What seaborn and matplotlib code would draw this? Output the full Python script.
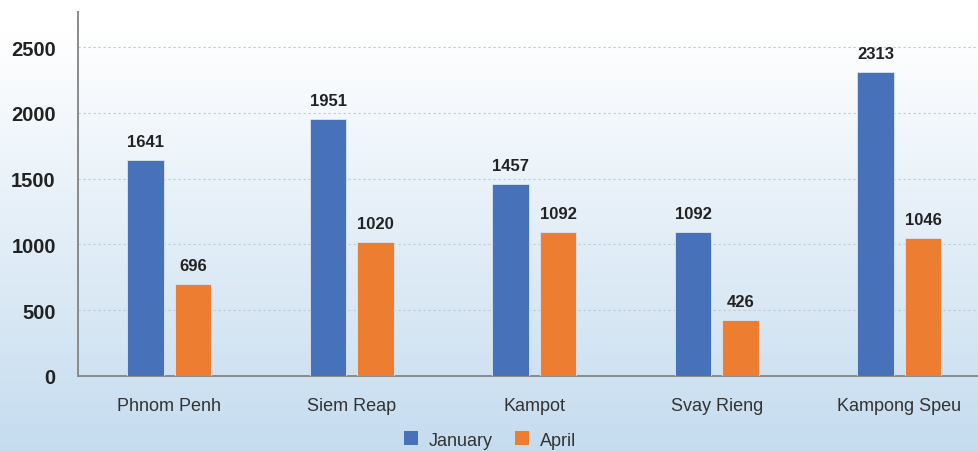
import numpy as np
import pandas as pd
import matplotlib
matplotlib.use("Agg")
import matplotlib.pyplot as plt
from matplotlib.patches import Patch
from matplotlib.ticker import MultipleLocator
import seaborn as sns

provinces = ["Phnom Penh", "Siem Reap", "Kampot", "Svay Rieng", "Kampong Speu"]
january = [1641, 1951, 1457, 1092, 2313]
april = [696, 1020, 1092, 426, 1046]
months = ["January", "April"]
colors = ["#4771B8", "#ED7D31"]

df = pd.DataFrame({
    "Province": provinces * 2,
    "Month": [months[0]] * len(provinces) + [months[1]] * len(provinces),
    "Count": january + april,
})

sns.set_theme(style="white")
plt.rcParams["font.family"] = ["Liberation Sans", "DejaVu Sans"]

fig = plt.figure(figsize=(9.79, 4.52), dpi=100)

# soft white-to-blue backdrop behind the whole figure
bg = fig.add_axes([0, 0, 1, 1], zorder=-10)
h = 452
t = np.clip((np.arange(h) - 30) / (h - 30), 0, 1)[:, None]
top = np.array([1.0, 1.0, 1.0])
bottom = np.array([197, 220, 239]) / 255
grad = top[None, None, :] * (1 - t[..., None]) + bottom[None, None, :] * t[..., None]
grad = np.repeat(grad, 4, axis=1)
bg.imshow(grad, aspect="auto", extent=[0, 1, 0, 1])
bg.axis("off")

ax = fig.add_axes([78 / 979, 75 / 452, 912.5 / 979, 364 / 452])
ax.set_facecolor("none")

sns.barplot(data=df, x="Province", y="Count", hue="Month", palette=colors,
            width=0.52, gap=0.23, ax=ax, legend=False, saturation=1,
            edgecolor="#dbe6f3", linewidth=0.6, zorder=3)

for cont in ax.containers:
    ax.bar_label(cont, padding=8, fontsize=12, fontweight="bold", color="#222222")

ax.set_ylim(0, 2766)
ax.set_xlim(-0.5, 4.5)
ax.yaxis.set_major_locator(MultipleLocator(500))
ax.grid(axis="y", color="#c4c8cc", linestyle=(0, (2, 2.5)), linewidth=0.8, zorder=0)
ax.set_axisbelow(True)

for side in ["top", "right"]:
    ax.spines[side].set_visible(False)
for side in ["left", "bottom"]:
    ax.spines[side].set_color("#8a8a8a")
    ax.spines[side].set_linewidth(1.4)

ax.set_xlabel("")
ax.set_ylabel("")
ax.tick_params(axis="y", length=0, pad=16, labelsize=14.5, labelcolor="#222222")
for lbl in ax.get_yticklabels():
    lbl.set_fontweight("bold")
ax.tick_params(axis="x", which="major", length=0, pad=15, labelsize=13, labelcolor="#333333")
ax.set_xticks(np.arange(-0.5, 5.0, 1.0), minor=True)
ax.tick_params(axis="x", which="minor", length=5, width=1.4, color="#8a8a8a", direction="out")

handles = [Patch(facecolor=c, edgecolor="none") for c in colors]
fig.legend(handles, months, loc="center", bbox_to_anchor=(490 / 979, 1 - 441 / 452),
           ncol=2, frameon=False, fontsize=13, handlelength=0.8, handleheight=0.8,
           handletextpad=0.6, columnspacing=1.2, labelcolor="#333333")

fig.savefig("out.png", dpi=100)
